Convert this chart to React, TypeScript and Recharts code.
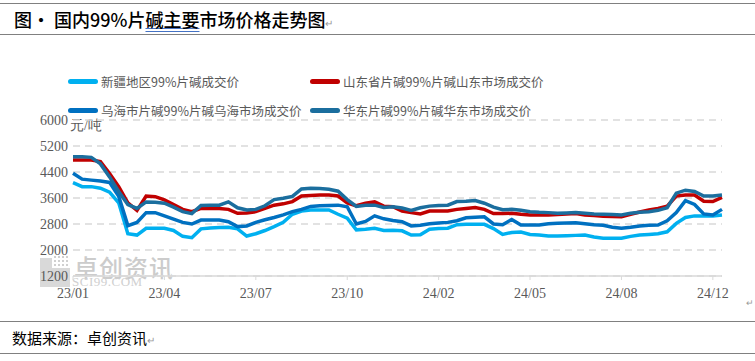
import { LineChart, Line, XAxis, YAxis, CartesianGrid } from "recharts";

const tickLabels = ["23/01", "23/04", "23/07", "23/10", "24/02", "24/05", "24/08", "24/12"];
const yTicks = [1200, 2000, 2800, 3600, 4400, 5200, 6000];

// 新疆地区99%片碱成交价
const xinjiang = [
  4070, 3950, 3950, 3900, 3780, 3450, 2500, 2460, 2670, 2670,
  2670, 2600, 2420, 2380, 2650, 2680, 2690, 2700, 2650, 2430,
  2500, 2600, 2720, 2850, 3100, 3200, 3230, 3230, 3230, 3100,
  2980, 2620, 2640, 2670, 2600, 2610, 2590, 2460, 2470, 2640,
  2660, 2670, 2780, 2790, 2790, 2790, 2660, 2480, 2540, 2550,
  2480, 2460, 2430, 2430, 2440, 2450, 2460, 2400, 2360, 2360,
  2360, 2420, 2460, 2480, 2500, 2560, 2820, 3000, 3050, 3050,
  3050, 3080,
];
// 山东省片碱99%片碱山东市场成交价
const shandong = [
  4770, 4770, 4770, 4720, 4350, 3950, 3450, 3220, 3660, 3640,
  3540, 3400, 3250, 3180, 3280, 3280, 3280, 3250, 3130, 3140,
  3180, 3280, 3380, 3420, 3490, 3660, 3680, 3690, 3690, 3660,
  3450, 3360, 3440, 3480, 3350, 3330, 3200, 3150, 3110, 3200,
  3200, 3200, 3250, 3280, 3310, 3250, 3120, 3120, 3130, 3100,
  3080, 3080, 3080, 3090, 3110, 3120, 3080, 3060, 3040, 3030,
  3020, 3100, 3170, 3230, 3280, 3350, 3660, 3690, 3690, 3500,
  3490, 3620,
];
// 乌海市片碱99%片碱乌海市场成交价
const wuhai = [
  4360, 4180, 4150, 4120, 4080, 3650, 2750, 2850, 3150, 3150,
  3050, 2950, 2850, 2800, 2920, 2920, 2920, 2870, 2720, 2740,
  2850, 2930, 3000, 3080, 3180, 3250, 3340, 3360, 3370, 3380,
  3330, 2800, 2880, 3050, 2960, 2910, 2870, 2740, 2760, 2810,
  2830, 2850, 2900, 2990, 3010, 3020, 2800, 2780, 2940, 2770,
  2770, 2770, 2810, 2820, 2830, 2840, 2810, 2780, 2760, 2700,
  2670, 2700, 2740, 2760, 2770, 2900, 3150, 3520, 3400, 3110,
  3080, 3250,
];
// 华东片碱99%片碱华东市场成交价
const huadong = [
  4870, 4870, 4850, 4650, 4250, 3800, 3400, 3280, 3480, 3470,
  3440, 3320, 3180, 3120, 3370, 3380, 3380, 3480, 3300, 3230,
  3250, 3360, 3550, 3590, 3650, 3880, 3900, 3890, 3870, 3810,
  3550, 3340, 3380, 3380, 3310, 3330, 3290, 3220, 3300, 3350,
  3370, 3380, 3490, 3500, 3520, 3440, 3320, 3240, 3250, 3220,
  3180, 3160, 3150, 3130, 3140, 3150, 3130, 3110, 3100, 3090,
  3080, 3130, 3160, 3180, 3220, 3300, 3750, 3840, 3800, 3660,
  3660, 3690,
];

const series = [
  { key: "xinjiang", name: "新疆地区99%片碱成交价", color: "#00B0F0" },
  { key: "shandong", name: "山东省片碱99%片碱山东市场成交价", color: "#C00000" },
  { key: "wuhai", name: "乌海市片碱99%片碱乌海市场成交价", color: "#0070C0" },
  { key: "huadong", name: "华东片碱99%片碱华东市场成交价", color: "#1B6E9E" },
];

const data = xinjiang.map((v, i) => ({
  i,
  xinjiang: v,
  shandong: shandong[i],
  wuhai: wuhai[i],
  huadong: huadong[i],
}));

const serif = "'Liberation Serif', 'Times New Roman', serif";
const cjk = "'Noto Sans CJK SC', sans-serif";

function LegendBox() {
  return (
    <div
      style={{
        position: "absolute",
        left: 68,
        top: 72,
        display: "grid",
        gridTemplateColumns: "242px 260px",
        rowGap: 10,
        fontFamily: cjk,
        fontSize: 12.5,
        color: "#595959",
      }}
    >
      {series.map((s) => (
        <div key={s.key} style={{ display: "flex", alignItems: "center", height: 19, whiteSpace: "nowrap" }}>
          <span
            style={{
              display: "inline-block",
              width: 30,
              height: 5,
              borderRadius: 3,
              background: s.color,
              marginRight: 3,
            }}
          />
          {s.name}
        </div>
      ))}
    </div>
  );
}

export default function App() {
  return (
    <div style={{ position: "relative", width: 755, height: 361, background: "#fff", overflow: "hidden" }}>
      <style>{`body{margin:0}`}</style>
      {/* title */}
      <div style={{ position: "absolute", left: 0, top: 3, width: 755, borderTop: "1px solid #808080" }} />
      <div
        style={{
          position: "absolute",
          left: 14,
          top: 6,
          fontFamily: cjk,
          fontSize: 18,
          fontWeight: 500,
          color: "#000",
          whiteSpace: "nowrap",
        }}
      >
        图· 国内99%片
        <span style={{ textDecoration: "underline double #4472C4" }}>碱主要</span>
        市场价格走势图<span style={{ fontSize: 10, color: "#999" }}>↵</span>
      </div>
      <div style={{ position: "absolute", left: 0, top: 34, width: 755, borderTop: "1px solid #808080" }} />

      {/* watermark */}
      <div style={{ position: "absolute", left: 40, top: 258, width: 12, height: 29, background: "#d9d9d9" }} />
      <div style={{ position: "absolute", left: 52, top: 268, width: 18, height: 19, background: "#d9d9d9" }} />
      <div style={{ position: "absolute", left: 53, top: 255, width: 16, height: 13, backgroundImage: "radial-gradient(#d0d0d0 1.2px, transparent 1.5px)", backgroundSize: "4px 4px" }} />
      <div style={{ position: "absolute", left: 74, top: 249, fontFamily: cjk, fontWeight: 500, fontSize: 24, color: "#cccccc", letterSpacing: 1 }}>
        卓创资讯
      </div>
      <div style={{ position: "absolute", left: 72, top: 274, fontFamily: serif, fontSize: 13, color: "#d0d0d0", letterSpacing: 0.5 }}>
        SCI99.COM
      </div>

      {/* unit */}
      <div style={{ position: "absolute", left: 70, top: 117, fontFamily: serif, fontSize: 14, color: "#595959" }}>
        元/吨
      </div>

      <div style={{ position: "absolute", left: 0, top: 0 }}>
        <LineChart
          width={755}
          height={361}
          data={data}
          margin={{ top: 120, right: 33, bottom: 55, left: 13 }}
        >
          <CartesianGrid
            vertical={false}
            stroke="#d9d9d9"
            strokeWidth={1.5}
            strokeDasharray="7 5"
          />
          <XAxis
            dataKey="i"
            type="number"
            domain={[0, 71]}
            ticks={[0, 10, 20, 30, 40, 50, 60, 70]}
            tickFormatter={(v) => tickLabels[Math.round(v / 10)]}
            height={30}
            axisLine={{ stroke: "#d9d9d9", strokeWidth: 1.5 }}
            tickLine={{ stroke: "#d9d9d9" }}
            tickSize={4}
            tickMargin={8}
            tick={{ fill: "#595959", fontSize: 14, fontFamily: serif }}
          />
          <YAxis
            domain={[1200, 6000]}
            ticks={yTicks}
            interval={0}
            width={60}
            axisLine={false}
            tickLine={false}
            tickSize={0}
            tickMargin={5}
            tick={{ fill: "#595959", fontSize: 14, fontFamily: serif }}
          />
          {series.map((s) => (
            <Line
              key={s.key}
              dataKey={s.key}
              name={s.name}
              stroke={s.color}
              strokeWidth={3.5}
              dot={false}
              type="linear"
              isAnimationActive={false}
            />
          ))}
        </LineChart>
      </div>

      <LegendBox />

      {/* source */}
      <div style={{ position: "absolute", left: 746, top: 298, fontSize: 9, color: "#999" }}>↵</div>
      <div style={{ position: "absolute", left: 0, top: 321, width: 755, borderTop: "1px solid #808080" }} />
      <div style={{ position: "absolute", left: 12, top: 327, fontFamily: cjk, fontSize: 15, color: "#000" }}>
        数据来源：卓创资讯<span style={{ fontSize: 10, color: "#999" }}>↵</span>
      </div>
      <div style={{ position: "absolute", left: 0, top: 353, width: 755, borderTop: "1px solid #808080" }} />
    </div>
  );
}
